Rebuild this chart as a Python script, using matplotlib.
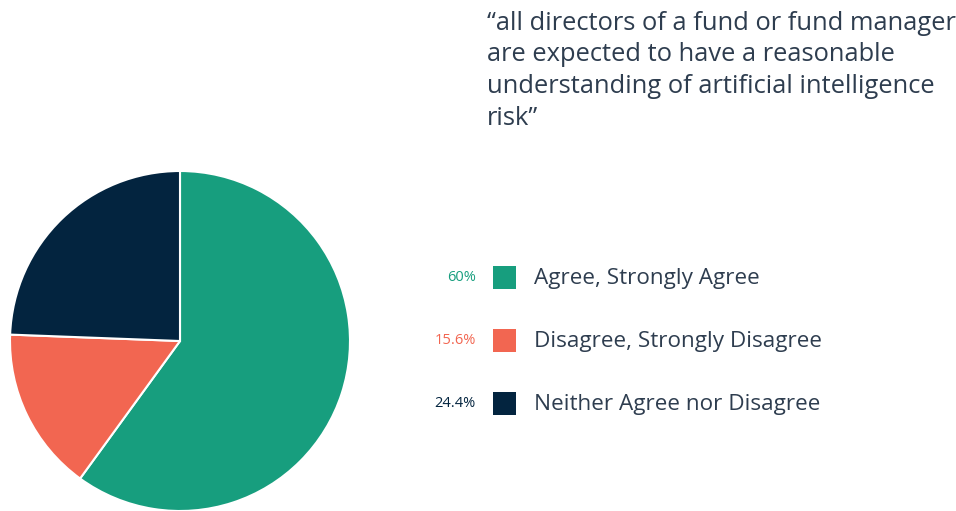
import matplotlib
matplotlib.use("Agg")
import matplotlib.pyplot as plt
from matplotlib.patches import Rectangle

# ── Data ──────────────────────────────────────────────────
categories = ["Agree, Strongly Agree", "Disagree, Strongly Disagree", "Neither Agree nor Disagree"]
shares = [60.0, 15.6, 24.4]
pct_labels = ["60%", "15.6%", "24.4%"]
colors = ["#179e7e", "#f26651", "#03243f"]
title_lines = [
    "\u201call directors of a fund or fund manager",
    "are expected to have a reasonable",
    "understanding of artificial intelligence",
    "risk\u201d",
]

TEXT = "#2e3d4f"
plt.rcParams["font.family"] = ["Open Sans", "DejaVu Sans"]

W, H = 956, 511
fig = plt.figure(figsize=(W / 100, H / 100), dpi=100)
ax = fig.add_axes([0, 0, 1, 1])

# ── Pie ───────────────────────────────────────────────────
ax.pie(shares, colors=colors, startangle=90, counterclock=False,
       center=(180, H - 341), radius=170,
       wedgeprops=dict(edgecolor="white", linewidth=1.5))
ax.set_xlim(0, W)
ax.set_ylim(0, H)
ax.set_aspect("equal")
ax.axis("off")

# ── Quote ─────────────────────────────────────────────────
for i, line in enumerate(title_lines):
    ax.text(487, H - 23 - i * 31.7, line, fontsize=18.4, color=TEXT,
            ha="left", va="center")

# ── Legend ────────────────────────────────────────────────
for i, (cat, pct, col) in enumerate(zip(categories, pct_labels, colors)):
    yc = H - 277 - i * 63
    ax.add_patch(Rectangle((493, yc - 11.5), 23, 23, facecolor=col, edgecolor="none"))
    ax.text(534, yc - 1.5, cat, fontsize=16.2, color=TEXT, ha="left", va="center")
    ax.text(476, yc - 0.5, pct, fontsize=10.5, color=col, ha="right", va="center")

fig.savefig("out.png", dpi=100, facecolor="white")
